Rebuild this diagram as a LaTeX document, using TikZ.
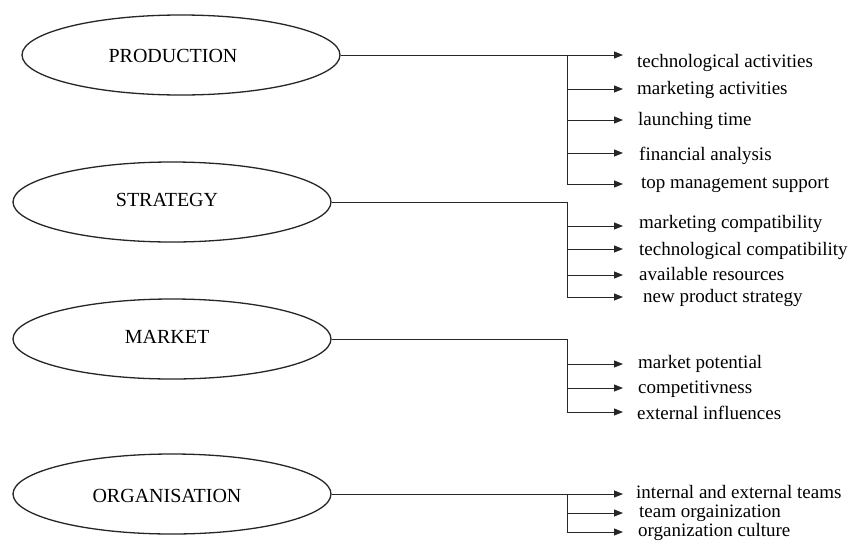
\documentclass[tikz,border=0pt]{standalone}
\usepackage{fontspec}
\setmainfont{Liberation Serif}
\usetikzlibrary{shapes.geometric,arrows.meta}
\begin{document}
\begin{tikzpicture}[x=1pt,y=-1pt,
  oval/.style={draw=black!85,ellipse,line width=1.3pt,minimum width=318pt,minimum height=80pt,inner sep=0pt},
  head/.style={font=\fontsize{20}{24}\selectfont,inner sep=0pt,anchor=base},
  item/.style={font=\fontsize{19}{22}\selectfont,inner sep=0pt,anchor=base west},
  conn/.style={draw=black!85,line width=1pt},
  arr/.style={conn,-{Triangle[length=9pt,width=7pt]}}]
\useasboundingbox (0,0) rectangle (853,555);
\fill[white] (0,0) rectangle (853,555);

% ellipses
\node[oval] (P) at (181,55) {};
\node[head] (Pt) at (173,62) {PRODUCTION};
\node[oval] (S) at (172,202) {};
\node[head] (St) at (167,206) {STRATEGY};
\node[oval] (M) at (172,339) {};
\node[head] (Mt) at (167,343) {MARKET};
\node[oval] (O) at (172,494) {};
\node[head] (Ot) at (167,502) {ORGANISATION};

% items
\node[item] (p1) at (637,67) {technological activities};
\node[item] (p2) at (637,94) {marketing activities};
\node[item] (p3) at (638,125) {launching time};
\node[item] (p4) at (639,160) {financial analysis};
\node[item] (p5) at (641,188) {top management support};

\node[item] (s1) at (639,228) {marketing compatibility};
\node[item] (s2) at (639,255) {technological compatibility};
\node[item] (s3) at (639,280) {available resources};
\node[item] (s4) at (643,302) {new product strategy};

\node[item] (m1) at (638,368) {market potential};
\node[item] (m2) at (638,393) {competitivness};
\node[item] (m3) at (637,419) {external influences};

\node[item] (o1) at (636,498) {internal and external teams};
\node[item] (o2) at (639,517) {team orgainization};
\node[item] (o3) at (638,536) {organization culture};

% junctions and arrow tips
\coordinate (jP) at (567,55);
\coordinate (jS) at (567,202);
\coordinate (jM) at (567,339);
\coordinate (jO) at (567,494);

\coordinate (aP1) at (623,55);
\coordinate (aP2) at (623,89);
\coordinate (aP3) at (623,120);
\coordinate (aP4) at (623,153);
\coordinate (aP5) at (623,184);

\coordinate (aS1) at (623,226);
\coordinate (aS2) at (623,249);
\coordinate (aS3) at (623,275);
\coordinate (aS4) at (623,297);

\coordinate (aM1) at (623,364);
\coordinate (aM2) at (623,388);
\coordinate (aM3) at (623,412);

\coordinate (aO1) at (623,494);
\coordinate (aO2) at (623,513);
\coordinate (aO3) at (623,532);

% PRODUCTION
\draw[conn] (P.east) -- (jP);
\draw[arr] (jP) -- (aP1);
\draw[conn] (jP) -- (jP |- aP5);
\foreach \k in {2,3,4,5} \draw[arr] (jP |- aP\k) -- (aP\k);

% STRATEGY
\draw[conn] (S.east) -- (jS) -- (jS |- aS4);
\foreach \k in {1,2,3,4} \draw[arr] (jS |- aS\k) -- (aS\k);

% MARKET
\draw[conn] (M.east) -- (jM) -- (jM |- aM3);
\foreach \k in {1,2,3} \draw[arr] (jM |- aM\k) -- (aM\k);

% ORGANISATION
\draw[conn] (O.east) -- (jO);
\draw[arr] (jO) -- (aO1);
\draw[conn] (jO) -- (jO |- aO3);
\foreach \k in {2,3} \draw[arr] (jO |- aO\k) -- (aO\k);
\end{tikzpicture}
\end{document}
